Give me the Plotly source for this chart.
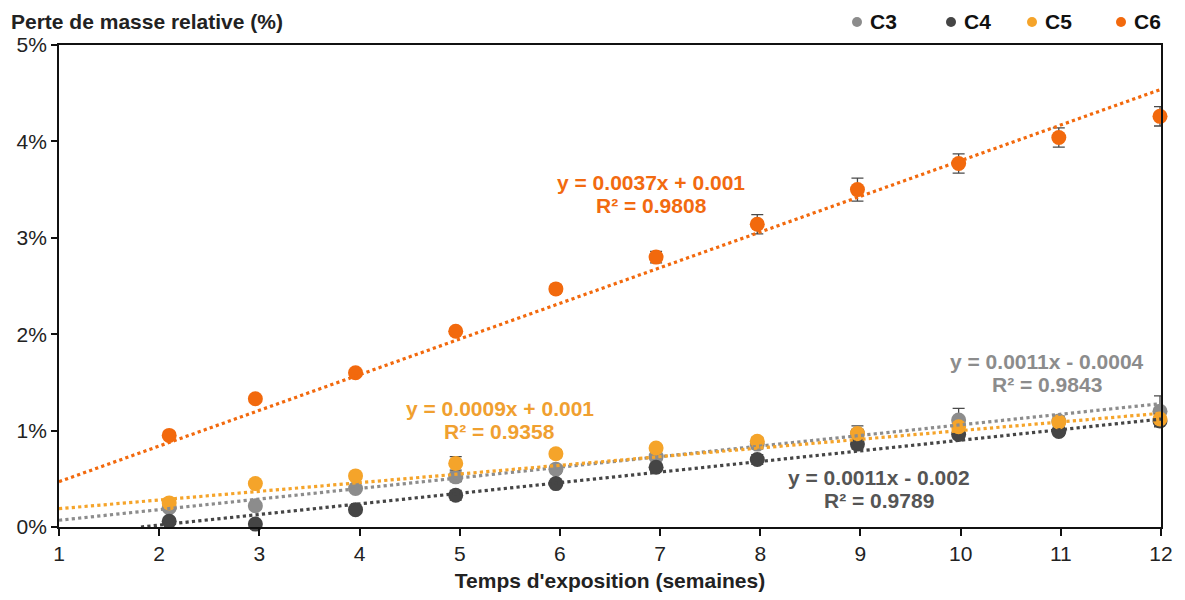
import plotly.graph_objects as go

# ---- data (in %) ----
series_names = ["C3", "C4", "C5", "C6"]
weeks = [2.1, 2.96, 3.96, 4.96, 5.96, 6.96, 7.97, 8.97, 9.98, 10.98, 11.99]

c3_values = [0.20, 0.22, 0.40, 0.52, 0.60, 0.73, 0.86, 0.97, 1.11, 1.10, 1.20]
c4_values = [0.06, 0.03, 0.18, 0.33, 0.45, 0.62, 0.70, 0.86, 0.96, 0.99, 1.10]
c5_values = [0.25, 0.45, 0.53, 0.66, 0.76, 0.82, 0.89, 0.97, 1.04, 1.09, 1.12]
c6_values = [0.95, 1.33, 1.60, 2.03, 2.47, 2.80, 3.14, 3.50, 3.77, 4.04, 4.26]

c3_err = [0.03, 0.03, 0.03, 0.05, 0.04, 0.04, 0.05, 0.08, 0.12, 0.05, 0.16]
c4_err = [0.03, 0.03, 0.03, 0.05, 0.03, 0.04, 0.05, 0.05, 0.04, 0.04, 0.05]
c5_err = [0.03, 0.03, 0.03, 0.07, 0.04, 0.03, 0.04, 0.04, 0.03, 0.03, 0.05]
c6_err = [0.03, 0.03, 0.03, 0.03, 0.04, 0.06, 0.10, 0.12, 0.10, 0.10, 0.10]

# trendline equations shown on the chart (fractions)
trend_slopes = [0.0011, 0.0011, 0.0009, 0.0037]
trend_intercepts = [-0.0004, -0.002, 0.001, 0.001]
trend_r2 = [0.9843, 0.9789, 0.9358, 0.9808]
trend_x_range = [1, 12]

x_ticks = list(range(1, 13))
y_ticks = [0, 1, 2, 3, 4, 5]
y_tick_labels = [f"{v}%" for v in y_ticks]

colors = ["#8C8C8C", "#454545", "#F5A42A", "#F2690D"]
text_colors = ["#8C8C8C", "#555555", "#F0A030", "#F26A10"]
values = [c3_values, c4_values, c5_values, c6_values]
errors = [c3_err, c4_err, c5_err, c6_err]

FONT = "Liberation Sans, Arial, sans-serif"

# page has an 8px body margin; size the figure so it fits the window
OFF = 8
W, H = 1185 - 2 * OFF, 600 - 2 * OFF
# plot area in window pixels: x 59..1161, y 45..527
ML, MT = 59 - OFF, 45 - OFF
MR, MB = W - (1161 - OFF), H - (527 - OFF)
PW, PH = W - ML - MR, H - MT - MB


def px_x(px):
    return (px - OFF - ML) / PW


def px_y(py):
    return (H - MB - (py - OFF)) / PH


fig = go.Figure()

# data markers
for name, vals, errs, col in zip(series_names, values, errors, colors):
    fig.add_trace(go.Scatter(
        x=weeks, y=vals, mode="markers", name=name, showlegend=False,
        marker=dict(size=15, color=col),
        error_y=dict(type="data", array=errs, visible=True,
                     color="#4A4A4A", thickness=1.3, width=6),
        cliponaxis=False,
    ))

# trendlines
for name, m, b, col in zip(series_names, trend_slopes, trend_intercepts, colors):
    xs = [trend_x_range[0], trend_x_range[1]]
    ys = [(m * x + b) * 100 for x in xs]
    if ys[0] < 0:  # start where line enters the plot (y = 0)
        xs[0] = -b / m
        ys[0] = 0
    fig.add_trace(go.Scatter(
        x=xs, y=ys, mode="lines", showlegend=False, hoverinfo="skip",
        line=dict(color=col, width=3.2, dash="dot"),
    ))

# equation annotations
ann_pos = [(10.86, 1.72, 1.48), (9.19, 0.51, 0.27), (5.40, 1.23, 0.99), (6.91, 3.57, 3.33)]
for (ax, ay1, ay2), m, b, r2, tc in zip(ann_pos, trend_slopes, trend_intercepts, trend_r2, text_colors):
    sign = "+" if b >= 0 else "-"
    eq = f"y = {m:g}x {sign} {abs(b):g}"
    fig.add_annotation(x=ax, y=ay1, text=f"<b>{eq}</b>", showarrow=False,
                       font=dict(family=FONT, size=21, color=tc))
    fig.add_annotation(x=ax, y=ay2, text=f"<b>R² = {r2:.4f}</b>", showarrow=False,
                       font=dict(family=FONT, size=21, color=tc))

# manual legend (top right)
legend_marker_px = [857, 951, 1032, 1121]
for name, col, mx in zip(series_names, colors, legend_marker_px):
    r = 5
    fig.add_shape(type="circle", xref="paper", yref="paper",
                  x0=px_x(mx - r), x1=px_x(mx + r), y0=px_y(22 + r), y1=px_y(22 - r),
                  fillcolor=col, line=dict(width=0))
    fig.add_annotation(xref="paper", yref="paper", x=px_x(mx + 11), y=px_y(22),
                       xanchor="left", yanchor="middle", showarrow=False,
                       text=f"<b>{name}</b>",
                       font=dict(family=FONT, size=21, color="#111111"))

# y-axis title at top-left
fig.add_annotation(xref="paper", yref="paper", x=px_x(9), y=px_y(22),
                   xanchor="left", yanchor="middle", showarrow=False,
                   text="<b>Perte de masse relative (%)</b>",
                   font=dict(family=FONT, size=21, color="#222222"))

fig.update_layout(
    width=W, height=H,
    margin=dict(l=ML, r=MR, t=MT, b=MB, autoexpand=False),
    paper_bgcolor="white", plot_bgcolor="white",
    font=dict(family=FONT, size=21, color="#222222"),
    showlegend=False,
    xaxis=dict(range=[1, 12], tickvals=x_ticks, ticks="outside", ticklen=7,
               tickwidth=1.5, tickcolor="#111", showline=True, linecolor="#111",
               linewidth=1.8, mirror=True, showgrid=False, zeroline=False,
               automargin=False,
               tickfont=dict(size=21, color="#222222"),
               title=dict(text="<b>Temps d'exposition (semaines)</b>", standoff=13,
                          font=dict(family=FONT, size=21, color="#222222"))),
    yaxis=dict(range=[0, 5], tickvals=y_ticks, ticktext=y_tick_labels, ticks="outside",
               ticklen=6, tickwidth=1.5, tickcolor="#111", showline=True,
               linecolor="#111", linewidth=1.8, mirror=True, showgrid=False,
               automargin=False,
               zeroline=False, tickfont=dict(size=21, color="#222222")),
)

fig.write_html("out.html")
